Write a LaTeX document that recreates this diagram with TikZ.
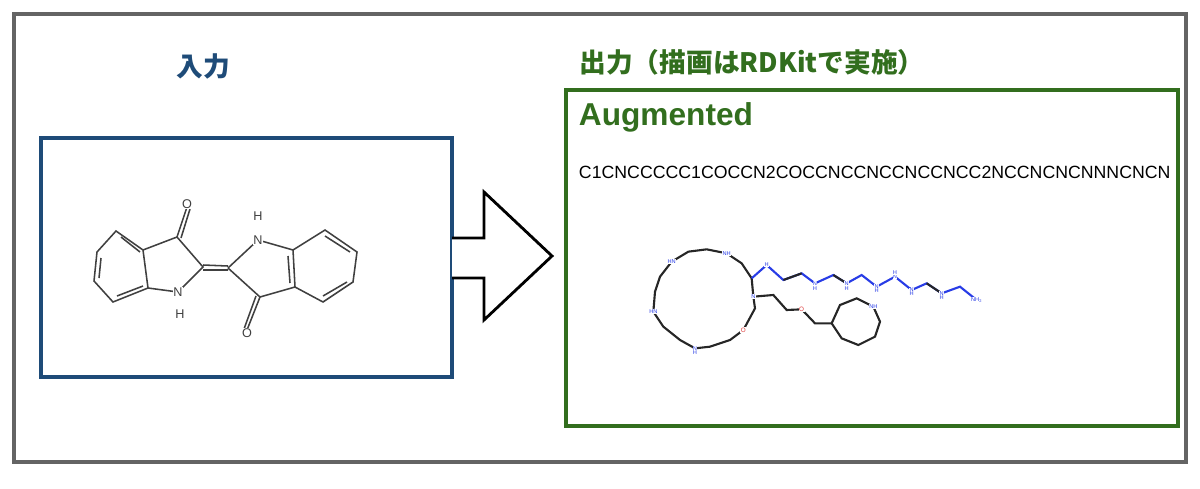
\documentclass[tikz,border=0pt]{standalone}
\usepackage{fontspec}
\setmainfont{Liberation Sans}
\newfontfamily\cjk{Noto Sans CJK JP}
\definecolor{frame}{RGB}{100,100,100}
\definecolor{inblue}{RGB}{30,75,120}
\definecolor{outgreen}{RGB}{50,110,30}
\definecolor{nblue}{RGB}{40,60,230}
\definecolor{ored}{RGB}{220,50,50}
\begin{document}
\begin{tikzpicture}[x=0.025cm,y=-0.025cm,
  bond/.style={line width=1.1pt,black!75},
  rb/.style={line width=1.5pt,black!85},
  nb/.style={line width=1.5pt,nblue},
  atomN/.style={text=nblue,font=\fontsize{4}{4}\selectfont,inner sep=0.3pt,fill=white},
  atomO/.style={text=ored,font=\fontsize{4.5}{4}\selectfont,inner sep=0.3pt,fill=white},
  lat/.style={font=\fontsize{9}{10}\selectfont,inner sep=0.5pt,fill=white,text=black!75}]
\useasboundingbox (0,0) rectangle (1200,488);
\draw[frame,line width=2.2pt] (14,14) rectangle (1186,462);
\node[text=inblue,font=\cjk\bfseries\fontsize{19}{22}\selectfont] (lin) at (203,66) {入力};
\node[text=outgreen,font=\cjk\bfseries\fontsize{19}{22}\selectfont] (lout) at (752,62) {出力（描画はRDKitで実施）};
\draw[inblue,line width=2.2pt] (41,138) rectangle (452,377);
\draw[outgreen,line width=2.2pt] (566,90) rectangle (1178,426);
\draw[black,line width=2pt,fill=white] (452,238) -- (484,238) -- (484,192) -- (552,256) -- (484,320) -- (484,278) -- (452,278);
\node[text=outgreen,font=\bfseries\fontsize{22.5}{26}\selectfont,anchor=west] (aug) at (574,117) {Augmented};
\node[font=\fontsize{12.6}{14}\selectfont,anchor=west] (smi) at (574,172) {C1CNCCCCC1COCCN2COCCNCCNCCNCCNCC2NCCNCNCNNNCNCN};
% left molecule
\draw[bond] (116,231)--(97,252)--(94,281)--(113,302)--(148,288)--(143,250)--cycle;
\draw[bond] (101,258)--(99,278) (117,296)--(143,286) (121,237)--(140,252);
\draw[bond] (143,250)--(177,237)--(203,267)--(178,292)--(148,288);
\draw[bond] (177,237)--(187,207) (181,238)--(190,209);
\draw[bond] (203,265)--(228,266) (203,270)--(228,270);
\draw[bond] (228,268)--(258,240)--(293,250)--(295,287)--(260,297)--(228,268);
\draw[bond] (260,297)--(247,330) (256,296)--(244,329);
\draw[bond] (293,250)--(325,230)--(357,252)--(353,282)--(323,302)--(295,287);
\draw[bond] (288,256)--(290,283) (325,236)--(350,252) (347,282)--(323,296);
\node[lat] (n1) at (178,292) {N}; \node[lat] (h1) at (180,314) {H};
\node[lat] (n2) at (258,240) {N}; \node[lat] (h2) at (258,216) {H};
\node[lat] (o1) at (187,204) {O}; \node[lat] (o2) at (247,333) {O};
% right molecule
\begin{scope}[shift={(640,230)},x=0.025cm/3,y=-0.025cm/3]
\draw[rb] (335,145)--(340,200)--(345,235)--(310,300)--(270,330)--(210,350)--(165,355)--(120,330)--(70,290)--(40,245)--(45,185)--(60,140)--(95,95)--(145,65)--(200,58)--(260,70)--(305,100)--cycle;
\draw[nb] (335,145)--(380,105)--(430,150)--(485,130)--(525,160)--(580,135)--(620,160)--(665,135)--(710,170)--(765,140)--(815,180)--(860,160)--(905,190)--(960,170)--(1010,210);
\draw[rb] (430,150)--(485,130) (580,135)--(620,160) (860,160)--(905,190);
\draw[rb] (340,200)--(400,195)--(440,240)--(485,238) (485,238)--(525,280)--(575,280);
\draw[rb] (575,280)--(600,225)--(650,205)--(700,230)--(720,275)--(705,320)--(655,345)--(605,325)--cycle;
\node[atomN] (m1) at (380,105) {H}; \node[atomN] at (525,175) {H}; \node[atomN] at (525,160) {N};
\node[atomN] at (620,160) {N}; \node[atomN] at (620,175) {H}; \node[atomN] at (710,170) {N};\node[atomN] at (710,182) {H};
\node[atomN] at (765,140) {N}; \node[atomN] at (765,128) {H}; \node[atomN] at (815,180) {N};\node[atomN] at (815,192) {H};
\node[atomN] at (905,190) {N}; \node[atomN] at (905,203) {H}; \node[atomN] at (1010,210) {NH\textsubscript{2}};
\node[atomN] at (340,200) {N}; \node[atomO] at (310,300) {O}; \node[atomO] at (485,238) {O};
\node[atomN] at (700,230) {NH}; \node[atomN] at (165,355) {N}; \node[atomN] at (165,368) {H};
\node[atomN] at (40,245) {HN}; \node[atomN] at (95,95) {HN}; \node[atomN] at (260,70) {NH};
\end{scope}
\end{tikzpicture}
\end{document}
